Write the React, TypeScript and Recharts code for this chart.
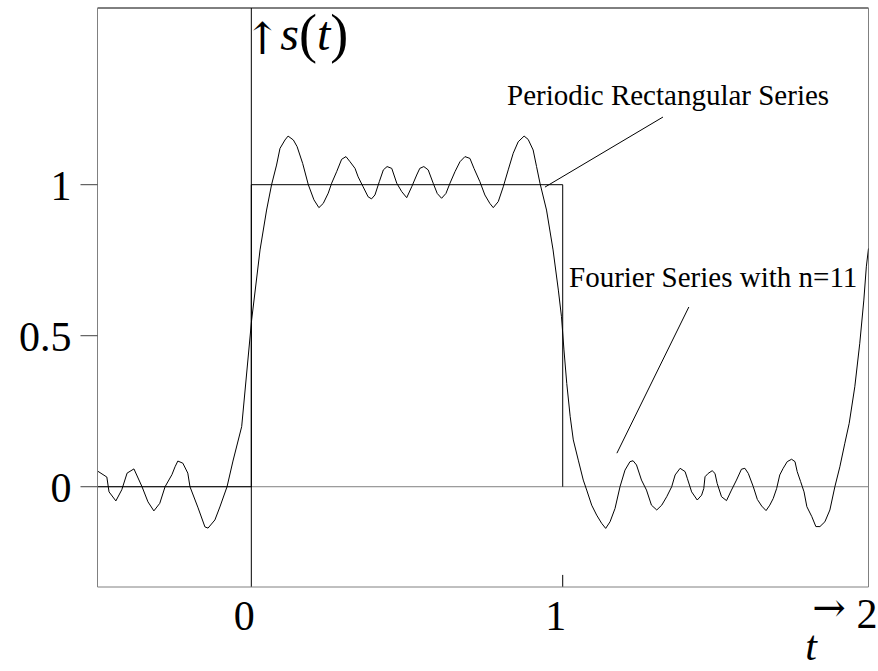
import { LineChart, Line, XAxis, YAxis, ReferenceLine } from 'recharts';

// Fourier series with n=11
const fourierT = [
  -0.494, -0.464, -0.457, -0.435, -0.416, -0.399, -0.377, -0.351, -0.332, -0.313,
  -0.294, -0.277, -0.255, -0.245, -0.236, -0.22, -0.204, -0.197, -0.171, -0.149,
  -0.139, -0.117, -0.101, -0.078, -0.059, -0.031, 0.001, 0.028, 0.049, 0.065,
  0.081, 0.092, 0.108, 0.118, 0.135, 0.147, 0.165, 0.183, 0.201, 0.217,
  0.231, 0.247, 0.258, 0.274, 0.29, 0.304, 0.317, 0.333, 0.343, 0.359,
  0.375, 0.386, 0.397, 0.411, 0.424, 0.436, 0.451, 0.467, 0.483, 0.499,
  0.515, 0.531, 0.541, 0.554, 0.568, 0.584, 0.597, 0.611, 0.625, 0.638,
  0.654, 0.67, 0.686, 0.702, 0.715, 0.734, 0.75, 0.766, 0.777, 0.793,
  0.809, 0.825, 0.841, 0.857, 0.876, 0.889, 0.905, 0.916, 0.927, 0.948,
  0.969, 0.986, 0.996, 1.004, 1.013, 1.024, 1.034, 1.05, 1.066, 1.077,
  1.093, 1.109, 1.125, 1.138, 1.152, 1.168, 1.184, 1.2, 1.216, 1.226,
  1.237, 1.253, 1.269, 1.285, 1.302, 1.318, 1.334, 1.35, 1.361, 1.377,
  1.393, 1.4, 1.414, 1.432, 1.446, 1.453, 1.457, 1.467, 1.48, 1.489,
  1.496, 1.51, 1.526, 1.542, 1.558, 1.574, 1.585, 1.596, 1.612, 1.625,
  1.639, 1.653, 1.665, 1.676, 1.687, 1.697, 1.708, 1.721, 1.735, 1.746,
  1.753, 1.764, 1.775, 1.784, 1.8, 1.813, 1.826, 1.842, 1.858, 1.874,
  1.89, 1.906, 1.92, 1.938, 1.954, 1.967, 1.975, 1.982,
];
const fourierS = [
  0.052, 0.032, -0.017, -0.047, -0.01, 0.045, 0.059, 0.0, -0.05, -0.08,
  -0.055, 0.0, 0.04, 0.066, 0.085, 0.078, 0.045, 0.0, -0.07, -0.133,
  -0.137, -0.11, -0.067, 0.0, 0.085, 0.199, 0.552, 0.784, 0.916, 1.0,
  1.065, 1.12, 1.148, 1.161, 1.148, 1.126, 1.07, 1.0, 0.95, 0.924,
  0.938, 0.972, 1.005, 1.043, 1.084, 1.093, 1.076, 1.054, 1.026, 0.993,
  0.96, 0.953, 0.966, 1.01, 1.049, 1.06, 1.054, 1.005, 0.977, 0.957,
  0.993, 1.032, 1.054, 1.06, 1.049, 1.005, 0.971, 0.955, 0.971, 1.005,
  1.043, 1.076, 1.093, 1.087, 1.054, 1.01, 0.966, 0.938, 0.924, 0.944,
  0.993, 1.049, 1.104, 1.142, 1.161, 1.15, 1.115, 1.06, 1.005, 0.916,
  0.784, 0.651, 0.563, 0.453, 0.342, 0.232, 0.155, 0.088, 0.022, -0.011,
  -0.061, -0.094, -0.121, -0.138, -0.116, -0.072, 0.0, 0.055, 0.083, 0.086,
  0.072, 0.022, -0.011, -0.061, -0.077, -0.061, -0.033, 0.0, 0.039, 0.061,
  0.05, 0.028, -0.017, -0.044, -0.028, -0.006, 0.033, 0.044, 0.053, 0.044,
  0.011, -0.033, -0.046, -0.011, 0.022, 0.058, 0.061, 0.044, 0.0, -0.042,
  -0.064, -0.079, -0.061, -0.039, -0.006, 0.039, 0.061, 0.083, 0.091, 0.083,
  0.05, 0.017, -0.017, -0.066, -0.099, -0.132, -0.132, -0.116, -0.077, 0.0,
  0.066, 0.144, 0.21, 0.331, 0.475, 0.618, 0.728, 0.789,
];

// periodic rectangular series
const rectT = [-0.494, 0, 0, 1, 1];
const rectS = [0, 0, 1, 1, 0];

const xTicks = [0, 1];
const yTicks = [0, 0.5, 1];
const xDomain = [-0.494, 1.982];
const yDomain = [-0.332, 1.585];

const fourierData = fourierT.map((t, i) => ({ t, s: fourierS[i] }));
const rectData = rectT.map((t, i) => ({ t, s: rectS[i] }));

const serif = '"Liberation Serif", "Times New Roman", serif';
const arrowFont = '"DejaVu Serif", "DejaVu Sans", serif';

function AxisCaption() {
  return (
    <g fontFamily={serif} fill="#000">
      <text x={829} y={621} fontSize={40} fontFamily={arrowFont} textAnchor="middle">→</text>
      <text x={811} y={660} fontSize={42} fontStyle="italic" textAnchor="middle">t</text>
      <text x={867} y={628} fontSize={42} textAnchor="middle">2</text>
      <text x={507} y={105} fontSize={29}>Periodic Rectangular Series</text>
      <text x={569} y={287} fontSize={29}>Fourier Series with n=11</text>
    </g>
  );
}

function SignalLabel({ viewBox }: any) {
  const x = viewBox?.x ?? 251;
  return (
    <g fontFamily={serif} fill="#000">
      <text x={x + 11} y={54} fontSize={44} fontFamily={arrowFont} textAnchor="middle">↑</text>
      <text x={x + 29} y={50} fontSize={48}>
        <tspan fontStyle="italic">s</tspan>
        <tspan fontSize={54} dy={2}>(</tspan>
        <tspan fontStyle="italic" dy={-2}>t</tspan>
        <tspan fontSize={54} dy={2}>)</tspan>
      </text>
    </g>
  );
}

export default function App() {
  return (
    <div style={{ position: 'absolute', left: 0, top: 0, background: '#fff' }}>
      <LineChart
        width={878}
        height={671}
        margin={{ top: 8, right: 9.5, left: 0, bottom: 0 }}
      >
        <XAxis
          type="number"
          dataKey="t"
          domain={xDomain}
          allowDataOverflow
          ticks={xTicks}
          height={84}
          tickLine={false}
          tickSize={0}
          tickMargin={13}
          axisLine={{ stroke: '#808080' }}
          tick={{ fontSize: 42, fill: '#000', fontFamily: serif, dx: -7 }}
          label={{ content: () => <AxisCaption /> }}
        />
        <YAxis
          type="number"
          domain={yDomain}
          allowDataOverflow
          ticks={yTicks}
          width={97.5}
          tickSize={17}
          tickMargin={9}
          tickLine={{ stroke: '#404040' }}
          axisLine={{ stroke: '#808080' }}
          tick={{ fontSize: 42, fill: '#000', fontFamily: serif }}
        />
        <ReferenceLine y={0} stroke="#808080" />
        <ReferenceLine y={1.585} stroke="#000" />
        <ReferenceLine x={1.982} stroke="#808080" />
        <ReferenceLine x={0} stroke="#000" label={{ content: (p: any) => <SignalLabel {...p} /> }} />
        <ReferenceLine segment={[{ x: 1, y: -0.332 }, { x: 1, y: -0.292 }]} stroke="#000" />
        <ReferenceLine segment={[{ x: 1.322, y: 1.224 }, { x: 0.943, y: 0.992 }]} stroke="#000" />
        <ReferenceLine segment={[{ x: 1.405, y: 0.595 }, { x: 1.174, y: 0.111 }]} stroke="#000" />
        <Line
          data={rectData}
          dataKey="s"
          type="linear"
          stroke="#000"
          strokeWidth={1}
          dot={false}
          isAnimationActive={false}
        />
        <Line
          data={fourierData}
          dataKey="s"
          type="linear"
          stroke="#000"
          strokeWidth={1}
          dot={false}
          isAnimationActive={false}
        />
      </LineChart>
    </div>
  );
}
